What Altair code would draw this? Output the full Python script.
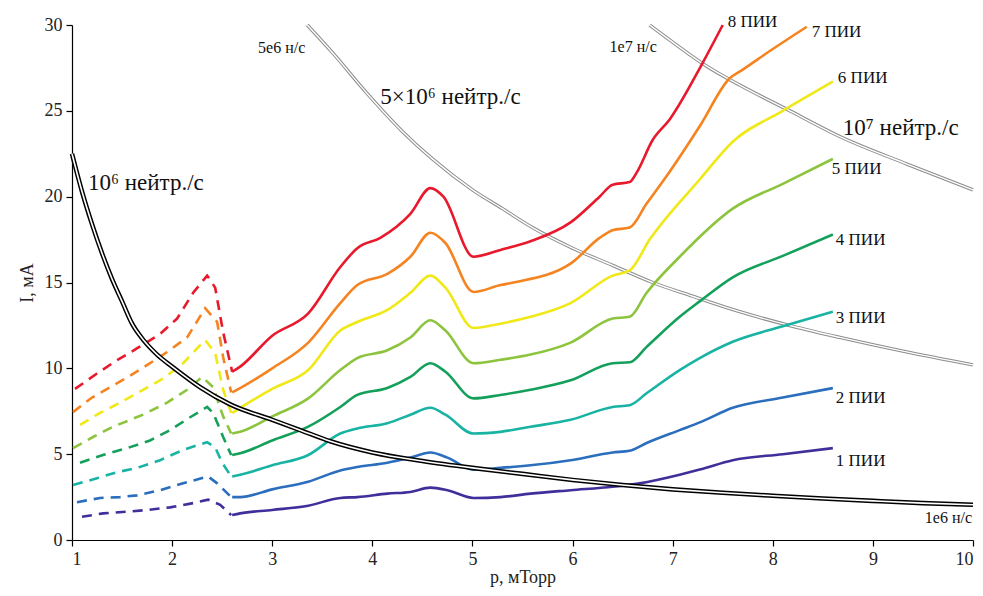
import altair as alt
import pandas as pd

# ---------------- data ----------------
series_names = ["1 ПИИ", "2 ПИИ", "3 ПИИ", "4 ПИИ", "5 ПИИ", "6 ПИИ", "7 ПИИ", "8 ПИИ"]
series_colors = ["#3f2f9a", "#2a6ebd", "#19b3a4", "#14a05b", "#8dc43e", "#f0e817", "#f5831f", "#e8192c"]

# dashed (low-pressure) parts
s1_dash_p = [1.10, 1.31, 1.55, 1.75, 1.98, 2.21, 2.36, 2.48, 2.59]
s1_dash_i = [1.35, 1.55, 1.65, 1.75, 1.90, 2.15, 2.35, 2.05, 1.45]
s2_dash_p = [1.05, 1.28, 1.48, 1.65, 1.88, 2.11, 2.36, 2.45, 2.59]
s2_dash_i = [2.20, 2.45, 2.50, 2.60, 2.90, 3.30, 3.70, 3.30, 2.50]
s3_dash_p = [1.01, 1.25, 1.45, 1.65, 1.88, 2.11, 2.35, 2.43, 2.50, 2.59]
s3_dash_i = [3.20, 3.60, 3.95, 4.20, 4.65, 5.25, 5.70, 5.40, 4.50, 3.70]
s4_dash_p = [1.08, 1.31, 1.55, 1.78, 1.98, 2.18, 2.35, 2.41, 2.51, 2.59]
s4_dash_i = [4.50, 4.95, 5.35, 5.80, 6.40, 7.15, 7.75, 7.40, 6.00, 4.95]
s5_dash_p = [1.01, 1.21, 1.41, 1.71, 1.95, 2.15, 2.30, 2.41, 2.51, 2.59]
s5_dash_i = [5.35, 6.00, 6.60, 7.30, 8.00, 8.75, 9.50, 8.90, 7.20, 6.20]
s6_dash_p = [1.08, 1.28, 1.48, 1.71, 1.91, 2.11, 2.33, 2.43, 2.51, 2.59]
s6_dash_i = [6.70, 7.40, 8.00, 8.75, 9.40, 10.3, 11.65, 10.9, 8.75, 7.40]
s7_dash_p = [1.01, 1.20, 1.38, 1.56, 1.78, 1.95, 2.15, 2.33, 2.45, 2.51, 2.59]
s7_dash_i = [7.45, 8.30, 8.90, 9.50, 10.3, 10.95, 11.8, 13.5, 12.7, 10.65, 8.60]
s8_dash_p = [1.03, 1.25, 1.43, 1.66, 1.88, 2.05, 2.21, 2.35, 2.43, 2.51, 2.60]
s8_dash_i = [8.80, 9.70, 10.4, 11.2, 12.0, 12.9, 14.4, 15.4, 14.7, 12.1, 9.80]

# solid parts
s1_p = [2.60, 2.68, 3.00, 3.36, 3.68, 3.85, 4.15, 4.38, 4.58, 4.75, 5.01, 5.28, 5.58, 5.98, 6.40, 6.67, 7.07, 7.27, 7.60, 8.10, 8.60]
s1_i = [1.45, 1.55, 1.75, 2.00, 2.45, 2.50, 2.70, 2.80, 3.05, 2.90, 2.45, 2.50, 2.70, 2.90, 3.10, 3.30, 3.80, 4.10, 4.65, 5.00, 5.35]
s2_p = [2.60, 2.68, 3.00, 3.36, 3.68, 3.85, 4.15, 4.38, 4.58, 4.75, 5.01, 5.28, 5.58, 5.98, 6.40, 6.57, 6.74, 7.07, 7.27, 7.60, 8.10, 8.60]
s2_i = [2.50, 2.50, 2.95, 3.40, 4.05, 4.25, 4.50, 4.80, 5.10, 4.80, 4.10, 4.20, 4.35, 4.65, 5.10, 5.20, 5.65, 6.40, 6.85, 7.70, 8.30, 8.85]
s3_p = [2.60, 2.68, 3.00, 3.36, 3.68, 3.85, 4.15, 4.38, 4.58, 4.73, 5.01, 5.28, 5.58, 5.98, 6.40, 6.57, 6.74, 7.07, 7.27, 7.60, 8.10, 8.60]
s3_i = [3.70, 3.80, 4.35, 4.95, 6.20, 6.50, 6.80, 7.30, 7.70, 7.30, 6.20, 6.30, 6.60, 7.00, 7.75, 7.85, 8.55, 9.90, 10.6, 11.55, 12.45, 13.3]
s4_p = [2.60, 2.68, 3.00, 3.36, 3.68, 3.85, 4.15, 4.38, 4.58, 4.73, 5.01, 5.28, 5.58, 5.98, 6.40, 6.57, 6.74, 7.07, 7.27, 7.60, 8.10, 8.60]
s4_i = [4.95, 5.05, 5.80, 6.60, 7.75, 8.45, 8.85, 9.50, 10.3, 9.80, 8.25, 8.45, 8.75, 9.30, 10.3, 10.35, 11.25, 13.0, 13.9, 15.3, 16.55, 17.8]
s5_p = [2.60, 2.68, 3.00, 3.36, 3.68, 3.85, 4.15, 4.38, 4.58, 4.73, 5.01, 5.28, 5.58, 5.98, 6.40, 6.57, 6.74, 7.07, 7.60, 8.10, 8.60]
s5_i = [6.20, 6.30, 7.20, 8.25, 9.90, 10.6, 11.05, 11.8, 12.8, 12.2, 10.3, 10.5, 10.8, 11.5, 12.9, 13.0, 14.4, 16.5, 19.3, 20.75, 22.2]
s6_p = [2.60, 2.68, 3.00, 3.36, 3.68, 3.85, 4.15, 4.38, 4.58, 4.73, 5.01, 5.28, 5.58, 5.98, 6.40, 6.57, 6.77, 7.27, 7.60, 8.10, 8.60]
s6_i = [7.40, 7.70, 8.80, 9.90, 12.2, 12.7, 13.4, 14.4, 15.4, 14.7, 12.35, 12.6, 13.0, 13.8, 15.4, 15.7, 17.5, 21.0, 23.2, 25.0, 26.7]
s7_p = [2.60, 2.68, 3.00, 3.36, 3.68, 3.85, 4.15, 4.38, 4.58, 4.73, 5.01, 5.28, 5.41, 5.98, 6.27, 6.40, 6.57, 6.74, 6.94, 7.27, 7.57, 7.70, 8.00, 8.34]
s7_i = [8.60, 8.85, 10.0, 11.5, 13.8, 14.85, 15.5, 16.5, 17.9, 17.3, 14.45, 14.85, 15.0, 16.1, 17.6, 18.05, 18.2, 19.6, 21.2, 24.1, 26.9, 27.4, 28.6, 29.9]
s8_p = [2.60, 2.68, 3.00, 3.36, 3.68, 3.85, 4.08, 4.38, 4.58, 4.71, 5.01, 5.28, 5.58, 5.98, 6.27, 6.40, 6.57, 6.64, 6.80, 6.97, 7.30, 7.50]
s8_i = [9.80, 10.1, 11.9, 13.2, 15.9, 17.0, 17.6, 19.0, 20.5, 20.0, 16.5, 16.9, 17.4, 18.5, 20.0, 20.7, 20.85, 21.4, 23.3, 24.5, 27.8, 30.0]

# neutron-yield iso-lines
n1e6_p = [1.00, 1.10, 1.20, 1.30, 1.40, 1.50, 1.60, 1.72, 1.85, 2.00, 2.28, 2.58, 3.00, 3.28, 3.58, 4.00, 4.50, 5.00, 5.50, 6.00, 6.50, 7.00, 7.50, 8.00, 8.50, 9.00, 9.50, 10.0]
n1e6_i = [22.5, 20.3, 18.4, 16.7, 15.2, 13.9, 12.6, 11.6, 10.8, 10.1, 8.90, 7.90, 7.00, 6.40, 5.75, 5.10, 4.60, 4.20, 3.85, 3.50, 3.20, 2.95, 2.75, 2.58, 2.42, 2.28, 2.15, 2.05]
n5e6_p = [3.35, 3.60, 3.95, 4.30, 4.60, 5.00, 5.30, 5.60, 6.00, 6.40, 6.80, 7.20, 7.67, 8.20, 8.67, 9.30, 10.0]
n5e6_i = [30.0, 28.4, 26.0, 23.8, 22.2, 20.4, 19.3, 18.2, 17.0, 16.0, 15.0, 14.2, 13.3, 12.45, 11.8, 11.0, 10.2]
n1e7_p = [6.77, 7.00, 7.34, 7.67, 8.17, 8.67, 9.34, 10.0]
n1e7_i = [30.0, 29.0, 27.6, 26.5, 25.0, 23.5, 21.9, 20.4]

# annotations
big_texts = ["10⁶ нейтр./с", "5×10⁶ нейтр./с", "10⁷ нейтр./с"]
big_p = [1.16, 4.08, 8.70]
big_i = [20.8, 25.8, 24.0]
small_left_texts = ["1e7 н/с"]
small_left_p = [6.37]
small_left_i = [28.7]
small_right_texts = ["5e6 н/с", "1e6 н/с"]
small_right_p = [3.33, 9.99]
small_right_i = [28.65, 1.28]
label_p = [8.63, 8.63, 8.63, 8.63, 8.59, 8.65, 8.39, 7.55]
label_i = [4.6, 8.3, 12.95, 17.45, 21.6, 26.9, 29.6, 30.2]

x_ticks = [1, 2, 3, 4, 5, 6, 7, 8, 9, 10]
y_ticks = [0, 5, 10, 15, 20, 25, 30]

# ---------------- build tables ----------------
dash_lists = [(s1_dash_p, s1_dash_i), (s2_dash_p, s2_dash_i), (s3_dash_p, s3_dash_i), (s4_dash_p, s4_dash_i),
              (s5_dash_p, s5_dash_i), (s6_dash_p, s6_dash_i), (s7_dash_p, s7_dash_i), (s8_dash_p, s8_dash_i)]
solid_lists = [(s1_p, s1_i), (s2_p, s2_i), (s3_p, s3_i), (s4_p, s4_i),
               (s5_p, s5_i), (s6_p, s6_i), (s7_p, s7_i), (s8_p, s8_i)]

dash_rows, solid_rows = [], []
for name, (ps, vs) in zip(series_names, dash_lists):
    for k, (p, v) in enumerate(zip(ps, vs)):
        dash_rows.append({"series": name, "p": p, "I": v, "k": k})
for name, (ps, vs) in zip(series_names, solid_lists):
    for k, (p, v) in enumerate(zip(ps, vs)):
        solid_rows.append({"series": name, "p": p, "I": v, "k": k})
dash_df = pd.DataFrame(dash_rows)
solid_df = pd.DataFrame(solid_rows)

grey_rows = []
for name, ps, vs in [("5e6", n5e6_p, n5e6_i), ("1e7", n1e7_p, n1e7_i)]:
    for k, (p, v) in enumerate(zip(ps, vs)):
        grey_rows.append({"curve": name, "p": p, "I": v, "k": k})
grey_df = pd.DataFrame(grey_rows)
black_df = pd.DataFrame({"p": n1e6_p, "I": n1e6_i})

big_df = pd.DataFrame({"t": big_texts, "p": big_p, "I": big_i})
sl_df = pd.DataFrame({"t": small_left_texts, "p": small_left_p, "I": small_left_i})
sr_df = pd.DataFrame({"t": small_right_texts, "p": small_right_p, "I": small_right_i})
lab_df = pd.DataFrame({"t": series_names, "p": label_p, "I": label_i})

FONT = "Liberation Serif"

xs = alt.Scale(domain=[1, 10], nice=False, zero=False)
ys = alt.Scale(domain=[0, 30], nice=False, zero=True)
x_enc = alt.X("p:Q", scale=xs, axis=alt.Axis(values=x_ticks, format="d", title="p, мТорр",
                                              titleY=46, titleBaseline="bottom"))
y_enc = alt.Y("I:Q", scale=ys, axis=alt.Axis(values=y_ticks, format="d", title="I, мА"))
color = alt.Color("series:N", scale=alt.Scale(domain=series_names, range=series_colors), legend=None)

grey_outer = alt.Chart(grey_df).mark_line(color="#8c8c8c", strokeWidth=3.4, interpolate="monotone").encode(
    x=x_enc, y=y_enc, detail="curve:N", order="k:Q")
grey_inner = alt.Chart(grey_df).mark_line(color="white", strokeWidth=1.4, interpolate="monotone").encode(
    x=x_enc, y=y_enc, detail="curve:N", order="k:Q")

dashed = alt.Chart(dash_df).mark_line(strokeWidth=2.6, strokeDash=[10, 7]).encode(
    x=x_enc, y=y_enc, color=color, detail="series:N", order="k:Q")
solid = alt.Chart(solid_df).mark_line(strokeWidth=2.6, interpolate="monotone").encode(
    x=x_enc, y=y_enc, color=color, detail="series:N", order="k:Q")

black_outer = alt.Chart(black_df).mark_line(color="black", strokeWidth=4.6, interpolate="monotone").encode(
    x=x_enc, y=y_enc)
black_inner = alt.Chart(black_df).mark_line(color="white", strokeWidth=1.6, interpolate="monotone").encode(
    x=x_enc, y=y_enc)

big_txt = alt.Chart(big_df).mark_text(font=FONT, fontSize=23, align="left", baseline="middle", color="#111").encode(
    x=x_enc, y=y_enc, text="t:N")
sl_txt = alt.Chart(sl_df).mark_text(font=FONT, fontSize=16, align="left", baseline="middle", color="#111").encode(
    x=x_enc, y=y_enc, text="t:N")
sr_txt = alt.Chart(sr_df).mark_text(font=FONT, fontSize=16, align="right", baseline="middle", color="#111").encode(
    x=x_enc, y=y_enc, text="t:N")
lab_txt = alt.Chart(lab_df).mark_text(font=FONT, fontSize=17, align="left", baseline="middle", color="#111").encode(
    x=x_enc, y=y_enc, text="t:N")

chart = alt.layer(
    grey_outer, grey_inner, dashed, solid, black_outer, black_inner,
    big_txt, sl_txt, sr_txt, lab_txt
).properties(
    width=901, height=515,
    autosize=alt.AutoSizeParams(type="none"),
    padding={"left": 64, "top": 17, "right": 2, "bottom": 47},
).configure_view(stroke=None).configure_axis(
    grid=False, domainColor="black", domainWidth=1.2, tickColor="black", tickSize=6, tickWidth=1.2,
    labelFont=FONT, labelFontSize=18, labelColor="#222", labelPadding=4,
    titleFont=FONT, titleFontSize=18, titleFontWeight="normal", titleColor="#222",
).configure_axisY(titlePadding=8)

chart.save("out.html", embed_options={"renderer": "svg", "actions": False})
